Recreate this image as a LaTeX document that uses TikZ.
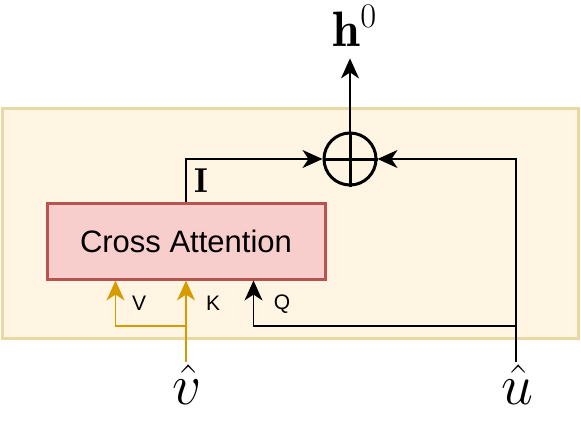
\documentclass[tikz,border=0pt]{standalone}
\usepackage{fontspec}
\setsansfont{Liberation Sans}
\usetikzlibrary{arrows.meta}
\DeclareMathSizes{24.88}{24.88}{17.28}{14.4}
\definecolor{panelfill}{HTML}{FFF5E2}
\definecolor{panelline}{HTML}{E9D8A2}
\definecolor{cafill}{HTML}{F8CECC}
\definecolor{caline}{HTML}{B85450}
\definecolor{vkcol}{HTML}{D79B00}
\begin{document}
\begin{tikzpicture}[x=0.5pt,y=-0.5pt,>={Stealth[length=10pt,width=9pt,inset=3pt]},
    panel/.style={draw=panelline,fill=panelfill,line width=1.5pt},
    attnbox/.style={draw=caline,fill=cafill,line width=1.5pt,minimum width=139pt,minimum height=38pt,font=\sffamily\fontsize{15.5}{18}\selectfont},
    addcirc/.style={draw,circle,line width=1.5pt,minimum size=26pt,inner sep=0pt},
    wire/.style={line width=0.8pt},
    vkwire/.style={wire,draw=vkcol},
    portlbl/.style={font=\sffamily\fontsize{10.5}{12}\selectfont},
    inlbl/.style={font=\fontsize{24.88}{30}\selectfont,scale=1.15,inner sep=1pt}]
    \useasboundingbox (0,0) rectangle (581,423);
    \draw[panel] (2,108) rectangle (578,338);
    \node[attnbox] (ca) at (186,241) {Cross Attention};
    \node[addcirc] (add) at (350,159) {};
    \draw[line width=1.5pt] (add.north)--(add.south) (add.west)--(add.east);
    \node[anchor=base,inner sep=2pt,font=\fontsize{24.88}{30}\selectfont] (h) at (355,46) {$\mathbf{h}^0$};
    \node[inlbl,anchor=north] (v) at (187,362) {$\hat{v}$};
    \node[inlbl,anchor=north] (u) at (517,362) {$\hat{u}$};
    % inputs of the attention block
    \coordinate (kv) at (186,326);
    \coordinate (vin) at ([xshift=35pt]ca.south west);
    \coordinate (qin) at ([xshift=104pt]ca.south west);
    \draw[vkwire,->] (v.north -| ca)--(ca);
    \draw[vkwire,->] (kv)-|(vin);
    \draw[wire,->] (kv -| 516,0)-|(qin);
    \draw[wire,->] (ca.north)|-(add);
    \draw[wire,->] (u.north -| 516,0)|-(add);
    \draw[wire,->,shorten >=4pt] (add)--(add |- h.south);
    \node[portlbl] (vl) at (139,303) {V};
    \node[portlbl] (kl) at (213,303) {K};
    \node[portlbl] (ql) at (282,304) {Q};
    \node[font=\fontsize{17.28}{20}\selectfont] (il) at (201,181) {$\mathbf{I}$};
\end{tikzpicture}
\end{document}
